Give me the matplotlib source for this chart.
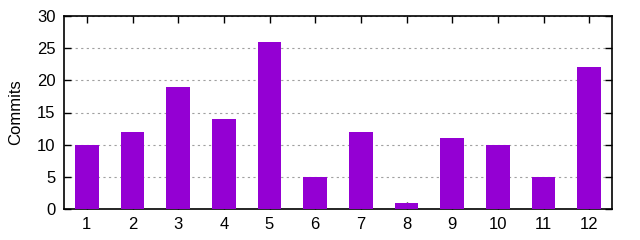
import numpy as np
import matplotlib
matplotlib.use('Agg')
import matplotlib.pyplot as plt

months = [1, 2, 3, 4, 5, 6, 7, 8, 9, 10, 11, 12]
commits = [10, 12, 19, 14, 26, 5, 12, 1, 11, 10, 5, 22]
yticks = [0, 5, 10, 15, 20, 25, 30]

plt.rcParams['font.family'] = ['Liberation Sans', 'DejaVu Sans']
plt.rcParams['font.size'] = 12

fig = plt.figure(figsize=(6.4, 2.4), dpi=100)
ax = fig.add_axes([64/640, 1 - 209/240, (612 - 64)/640, (209 - 16)/240])

ax.bar(months, commits, width=0.52, color='#9400d3', zorder=3)

ax.set_xlim(0.5, 12.5)
ax.set_ylim(0, 30)
ax.set_xticks(months)
ax.set_yticks(yticks)
ax.set_ylabel('Commits')
ax.yaxis.set_label_coords(-0.075, 0.5)

ax.grid(axis='y', color='#a0a0a0', linestyle=(0, (2, 3)), linewidth=0.8, zorder=0)
ax.tick_params(direction='in', length=5, width=1, top=True, right=True, pad=6, colors='black')
for s in ax.spines.values():
    s.set_linewidth(1.2)

fig.savefig('out.png', dpi=100)
